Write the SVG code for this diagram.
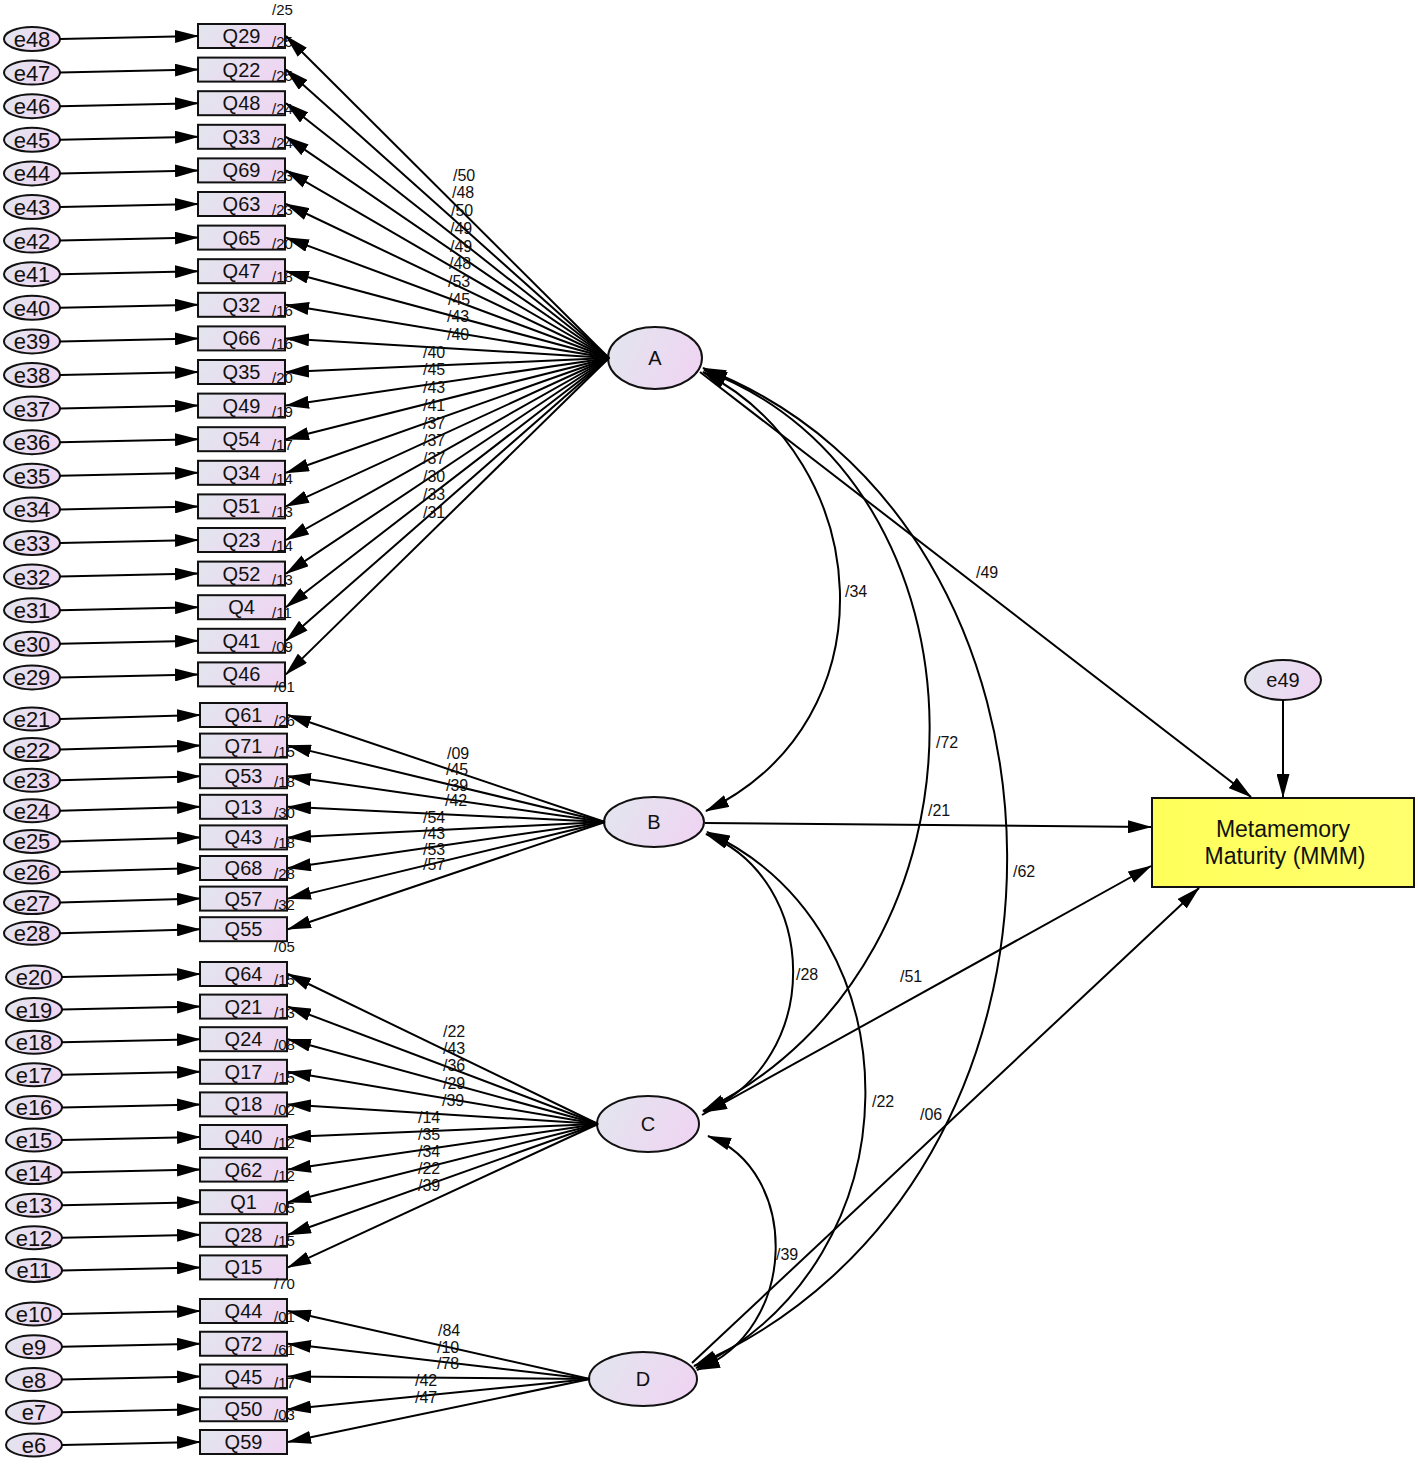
<svg xmlns="http://www.w3.org/2000/svg" width="1418" height="1464" viewBox="0 0 1418 1464">
<style>
.n{fill:url(#g);stroke:#111;stroke-width:2}
.y{fill:url(#gy);stroke:#111;stroke-width:2}
.t{font-family:"Liberation Sans",Arial,sans-serif;font-size:20px;text-anchor:middle;fill:#111}
.te{font-family:"Liberation Sans",Arial,sans-serif;font-size:22px;text-anchor:middle;fill:#111}
.s{font-family:"Liberation Sans",Arial,sans-serif;font-size:15px;fill:#111}
.l{font-family:"Liberation Sans",Arial,sans-serif;font-size:16px;fill:#111}
.c{stroke:#000;stroke-width:2;fill:none;marker-end:url(#ah)}
.b{stroke:#000;stroke-width:2;fill:none;marker-start:url(#ah);marker-end:url(#ah)}
</style>
<defs>
<linearGradient id="g" x1="0" y1="0" x2="1" y2="0.3"><stop offset="0" stop-color="#e2e6ee"/><stop offset="1" stop-color="#eed6f2"/></linearGradient>
<linearGradient id="gy" x1="0" y1="0" x2="1" y2="0"><stop offset="0" stop-color="#ffff5a"/><stop offset="1" stop-color="#ffff6e"/></linearGradient>
<marker id="ah" viewBox="0 0 24 13" refX="23" refY="6.5" markerWidth="24" markerHeight="13" markerUnits="userSpaceOnUse" orient="auto-start-reverse"><path d="M0,0 L24,6.5 L0,13 z" fill="#000"/></marker>
</defs>
<rect width="1418" height="1464" fill="#fff"/>

<g id="nodes">
<!-- A indicators -->
<g id="Q29"><rect class="n" x="198" y="24" width="87" height="24"/><text class="t" x="241.5" y="43">Q29</text><text class="s" x="272" y="47">/25</text></g>
<g id="Q22"><rect class="n" x="198" y="57.6" width="87" height="24"/><text class="t" x="241.5" y="76.6">Q22</text><text class="s" x="272" y="80.6">/25</text></g>
<g id="Q48"><rect class="n" x="198" y="91.2" width="87" height="24"/><text class="t" x="241.5" y="110.2">Q48</text><text class="s" x="272" y="114.2">/24</text></g>
<g id="Q33"><rect class="n" x="198" y="124.8" width="87" height="24"/><text class="t" x="241.5" y="143.8">Q33</text><text class="s" x="272" y="147.8">/24</text></g>
<g id="Q69"><rect class="n" x="198" y="158.4" width="87" height="24"/><text class="t" x="241.5" y="177.4">Q69</text><text class="s" x="272" y="181.4">/23</text></g>
<g id="Q63"><rect class="n" x="198" y="192" width="87" height="24"/><text class="t" x="241.5" y="211">Q63</text><text class="s" x="272" y="215">/23</text></g>
<g id="Q65"><rect class="n" x="198" y="225.6" width="87" height="24"/><text class="t" x="241.5" y="244.6">Q65</text><text class="s" x="272" y="248.6">/20</text></g>
<g id="Q47"><rect class="n" x="198" y="259.2" width="87" height="24"/><text class="t" x="241.5" y="278.2">Q47</text><text class="s" x="272" y="282.2">/18</text></g>
<g id="Q32"><rect class="n" x="198" y="292.8" width="87" height="24"/><text class="t" x="241.5" y="311.8">Q32</text><text class="s" x="272" y="315.8">/16</text></g>
<g id="Q66"><rect class="n" x="198" y="326.4" width="87" height="24"/><text class="t" x="241.5" y="345.4">Q66</text><text class="s" x="272" y="349.4">/16</text></g>
<g id="Q35"><rect class="n" x="198" y="360" width="87" height="24"/><text class="t" x="241.5" y="379">Q35</text><text class="s" x="272" y="383">/20</text></g>
<g id="Q49"><rect class="n" x="198" y="393.6" width="87" height="24"/><text class="t" x="241.5" y="412.6">Q49</text><text class="s" x="272" y="416.6">/19</text></g>
<g id="Q54"><rect class="n" x="198" y="427.2" width="87" height="24"/><text class="t" x="241.5" y="446.2">Q54</text><text class="s" x="272" y="450.2">/17</text></g>
<g id="Q34"><rect class="n" x="198" y="460.8" width="87" height="24"/><text class="t" x="241.5" y="479.8">Q34</text><text class="s" x="272" y="483.8">/14</text></g>
<g id="Q51"><rect class="n" x="198" y="494.4" width="87" height="24"/><text class="t" x="241.5" y="513.4">Q51</text><text class="s" x="272" y="517.4">/13</text></g>
<g id="Q23"><rect class="n" x="198" y="528" width="87" height="24"/><text class="t" x="241.5" y="547">Q23</text><text class="s" x="272" y="551">/14</text></g>
<g id="Q52"><rect class="n" x="198" y="561.6" width="87" height="24"/><text class="t" x="241.5" y="580.6">Q52</text><text class="s" x="272" y="584.6">/13</text></g>
<g id="Q4"><rect class="n" x="198" y="595.2" width="87" height="24"/><text class="t" x="241.5" y="614.2">Q4</text><text class="s" x="272" y="618.2">/11</text></g>
<g id="Q41"><rect class="n" x="198" y="628.8" width="87" height="24"/><text class="t" x="241.5" y="647.8">Q41</text><text class="s" x="272" y="651.8">/09</text></g>
<g id="Q46"><rect class="n" x="198" y="662.4" width="87" height="24"/><text class="t" x="241.5" y="681.4">Q46</text></g>
<text class="s" x="272" y="15">/25</text>
<text class="s" x="274" y="692">/01</text>

<!-- A errors -->
<g id="e48"><ellipse class="n" cx="32" cy="39" rx="28" ry="12"/><text class="te" x="32" y="47">e48</text></g>
<g id="e47"><ellipse class="n" cx="32" cy="72.6" rx="28" ry="12"/><text class="te" x="32" y="80.6">e47</text></g>
<g id="e46"><ellipse class="n" cx="32" cy="106.2" rx="28" ry="12"/><text class="te" x="32" y="114.2">e46</text></g>
<g id="e45"><ellipse class="n" cx="32" cy="139.8" rx="28" ry="12"/><text class="te" x="32" y="147.8">e45</text></g>
<g id="e44"><ellipse class="n" cx="32" cy="173.4" rx="28" ry="12"/><text class="te" x="32" y="181.4">e44</text></g>
<g id="e43"><ellipse class="n" cx="32" cy="207" rx="28" ry="12"/><text class="te" x="32" y="215">e43</text></g>
<g id="e42"><ellipse class="n" cx="32" cy="240.6" rx="28" ry="12"/><text class="te" x="32" y="248.6">e42</text></g>
<g id="e41"><ellipse class="n" cx="32" cy="274.2" rx="28" ry="12"/><text class="te" x="32" y="282.2">e41</text></g>
<g id="e40"><ellipse class="n" cx="32" cy="307.8" rx="28" ry="12"/><text class="te" x="32" y="315.8">e40</text></g>
<g id="e39"><ellipse class="n" cx="32" cy="341.4" rx="28" ry="12"/><text class="te" x="32" y="349.4">e39</text></g>
<g id="e38"><ellipse class="n" cx="32" cy="375" rx="28" ry="12"/><text class="te" x="32" y="383">e38</text></g>
<g id="e37"><ellipse class="n" cx="32" cy="408.6" rx="28" ry="12"/><text class="te" x="32" y="416.6">e37</text></g>
<g id="e36"><ellipse class="n" cx="32" cy="442.2" rx="28" ry="12"/><text class="te" x="32" y="450.2">e36</text></g>
<g id="e35"><ellipse class="n" cx="32" cy="475.8" rx="28" ry="12"/><text class="te" x="32" y="483.8">e35</text></g>
<g id="e34"><ellipse class="n" cx="32" cy="509.4" rx="28" ry="12"/><text class="te" x="32" y="517.4">e34</text></g>
<g id="e33"><ellipse class="n" cx="32" cy="543" rx="28" ry="12"/><text class="te" x="32" y="551">e33</text></g>
<g id="e32"><ellipse class="n" cx="32" cy="576.6" rx="28" ry="12"/><text class="te" x="32" y="584.6">e32</text></g>
<g id="e31"><ellipse class="n" cx="32" cy="610.2" rx="28" ry="12"/><text class="te" x="32" y="618.2">e31</text></g>
<g id="e30"><ellipse class="n" cx="32" cy="643.8" rx="28" ry="12"/><text class="te" x="32" y="651.8">e30</text></g>
<g id="e29"><ellipse class="n" cx="32" cy="677.4" rx="28" ry="12"/><text class="te" x="32" y="685.4">e29</text></g>

<!-- B indicators -->
<g id="Q61"><rect class="n" x="200" y="703" width="87" height="24"/><text class="t" x="243.5" y="722">Q61</text><text class="s" x="274" y="726">/26</text></g>
<g id="Q71"><rect class="n" x="200" y="733.6" width="87" height="24"/><text class="t" x="243.5" y="752.6">Q71</text><text class="s" x="274" y="756.6">/15</text></g>
<g id="Q53"><rect class="n" x="200" y="764.2" width="87" height="24"/><text class="t" x="243.5" y="783.2">Q53</text><text class="s" x="274" y="787.2">/18</text></g>
<g id="Q13"><rect class="n" x="200" y="794.8" width="87" height="24"/><text class="t" x="243.5" y="813.8">Q13</text><text class="s" x="274" y="817.8">/30</text></g>
<g id="Q43"><rect class="n" x="200" y="825.4" width="87" height="24"/><text class="t" x="243.5" y="844.4">Q43</text><text class="s" x="274" y="848.4">/18</text></g>
<g id="Q68"><rect class="n" x="200" y="856" width="87" height="24"/><text class="t" x="243.5" y="875">Q68</text><text class="s" x="274" y="879">/28</text></g>
<g id="Q57"><rect class="n" x="200" y="886.6" width="87" height="24"/><text class="t" x="243.5" y="905.6">Q57</text><text class="s" x="274" y="909.6">/32</text></g>
<g id="Q55"><rect class="n" x="200" y="917.2" width="87" height="24"/><text class="t" x="243.5" y="936.2">Q55</text></g>
<text class="s" x="274" y="952">/05</text>

<g id="e21"><ellipse class="n" cx="32" cy="719" rx="28" ry="11.5"/><text class="te" x="32" y="727">e21</text></g>
<g id="e22"><ellipse class="n" cx="32" cy="749.6" rx="28" ry="11.5"/><text class="te" x="32" y="757.6">e22</text></g>
<g id="e23"><ellipse class="n" cx="32" cy="780.2" rx="28" ry="11.5"/><text class="te" x="32" y="788.2">e23</text></g>
<g id="e24"><ellipse class="n" cx="32" cy="810.8" rx="28" ry="11.5"/><text class="te" x="32" y="818.8">e24</text></g>
<g id="e25"><ellipse class="n" cx="32" cy="841.4" rx="28" ry="11.5"/><text class="te" x="32" y="849.4">e25</text></g>
<g id="e26"><ellipse class="n" cx="32" cy="872" rx="28" ry="11.5"/><text class="te" x="32" y="880">e26</text></g>
<g id="e27"><ellipse class="n" cx="32" cy="902.6" rx="28" ry="11.5"/><text class="te" x="32" y="910.6">e27</text></g>
<g id="e28"><ellipse class="n" cx="32" cy="933.2" rx="28" ry="11.5"/><text class="te" x="32" y="941.2">e28</text></g>

<!-- C indicators -->
<g id="Q64"><rect class="n" x="200" y="962" width="87" height="24"/><text class="t" x="243.5" y="981">Q64</text><text class="s" x="274" y="985">/15</text></g>
<g id="Q21"><rect class="n" x="200" y="994.6" width="87" height="24"/><text class="t" x="243.5" y="1013.6">Q21</text><text class="s" x="274" y="1017.6">/13</text></g>
<g id="Q24"><rect class="n" x="200" y="1027.2" width="87" height="24"/><text class="t" x="243.5" y="1046.2">Q24</text><text class="s" x="274" y="1050.2">/08</text></g>
<g id="Q17"><rect class="n" x="200" y="1059.8" width="87" height="24"/><text class="t" x="243.5" y="1078.8">Q17</text><text class="s" x="274" y="1082.8">/15</text></g>
<g id="Q18"><rect class="n" x="200" y="1092.4" width="87" height="24"/><text class="t" x="243.5" y="1111.4">Q18</text><text class="s" x="274" y="1115.4">/02</text></g>
<g id="Q40"><rect class="n" x="200" y="1125" width="87" height="24"/><text class="t" x="243.5" y="1144">Q40</text><text class="s" x="274" y="1148">/12</text></g>
<g id="Q62"><rect class="n" x="200" y="1157.6" width="87" height="24"/><text class="t" x="243.5" y="1176.6">Q62</text><text class="s" x="274" y="1180.6">/12</text></g>
<g id="Q1"><rect class="n" x="200" y="1190.2" width="87" height="24"/><text class="t" x="243.5" y="1209.2">Q1</text><text class="s" x="274" y="1213.2">/05</text></g>
<g id="Q28"><rect class="n" x="200" y="1222.8" width="87" height="24"/><text class="t" x="243.5" y="1241.8">Q28</text><text class="s" x="274" y="1245.8">/15</text></g>
<g id="Q15"><rect class="n" x="200" y="1255.4" width="87" height="24"/><text class="t" x="243.5" y="1274.4">Q15</text></g>
<text class="s" x="274" y="1289">/70</text>

<g id="e20"><ellipse class="n" cx="34" cy="977" rx="28" ry="11.5"/><text class="te" x="34" y="985">e20</text></g>
<g id="e19"><ellipse class="n" cx="34" cy="1009.6" rx="28" ry="11.5"/><text class="te" x="34" y="1017.6">e19</text></g>
<g id="e18"><ellipse class="n" cx="34" cy="1042.2" rx="28" ry="11.5"/><text class="te" x="34" y="1050.2">e18</text></g>
<g id="e17"><ellipse class="n" cx="34" cy="1074.8" rx="28" ry="11.5"/><text class="te" x="34" y="1082.8">e17</text></g>
<g id="e16"><ellipse class="n" cx="34" cy="1107.4" rx="28" ry="11.5"/><text class="te" x="34" y="1115.4">e16</text></g>
<g id="e15"><ellipse class="n" cx="34" cy="1140" rx="28" ry="11.5"/><text class="te" x="34" y="1148">e15</text></g>
<g id="e14"><ellipse class="n" cx="34" cy="1172.6" rx="28" ry="11.5"/><text class="te" x="34" y="1180.6">e14</text></g>
<g id="e13"><ellipse class="n" cx="34" cy="1205.2" rx="28" ry="11.5"/><text class="te" x="34" y="1213.2">e13</text></g>
<g id="e12"><ellipse class="n" cx="34" cy="1237.8" rx="28" ry="11.5"/><text class="te" x="34" y="1245.8">e12</text></g>
<g id="e11"><ellipse class="n" cx="34" cy="1270.4" rx="28" ry="11.5"/><text class="te" x="34" y="1278.4">e11</text></g>

<!-- D indicators -->
<g id="Q44"><rect class="n" x="200" y="1299" width="87" height="24"/><text class="t" x="243.5" y="1318">Q44</text><text class="s" x="274" y="1322">/01</text></g>
<g id="Q72"><rect class="n" x="200" y="1331.75" width="87" height="24"/><text class="t" x="243.5" y="1350.75">Q72</text><text class="s" x="274" y="1354.75">/61</text></g>
<g id="Q45"><rect class="n" x="200" y="1364.5" width="87" height="24"/><text class="t" x="243.5" y="1383.5">Q45</text><text class="s" x="274" y="1387.5">/17</text></g>
<g id="Q50"><rect class="n" x="200" y="1397.25" width="87" height="24"/><text class="t" x="243.5" y="1416.25">Q50</text><text class="s" x="274" y="1420.25">/03</text></g>
<g id="Q59"><rect class="n" x="200" y="1430" width="87" height="24"/><text class="t" x="243.5" y="1449">Q59</text></g>

<g id="e10"><ellipse class="n" cx="34" cy="1314" rx="28" ry="11.5"/><text class="te" x="34" y="1322">e10</text></g>
<g id="e9"><ellipse class="n" cx="34" cy="1346.75" rx="28" ry="11.5"/><text class="te" x="34" y="1354.75">e9</text></g>
<g id="e8"><ellipse class="n" cx="34" cy="1379.5" rx="28" ry="11.5"/><text class="te" x="34" y="1387.5">e8</text></g>
<g id="e7"><ellipse class="n" cx="34" cy="1412.25" rx="28" ry="11.5"/><text class="te" x="34" y="1420.25">e7</text></g>
<g id="e6"><ellipse class="n" cx="34" cy="1445" rx="28" ry="11.5"/><text class="te" x="34" y="1453">e6</text></g>

<!-- latent -->
<g id="A"><ellipse class="n" cx="655" cy="358" rx="47" ry="31"/><text class="t" x="655" y="365">A</text></g>
<g id="B"><ellipse class="n" cx="654" cy="822" rx="50" ry="25"/><text class="t" x="654" y="829">B</text></g>
<g id="C"><ellipse class="n" cx="648" cy="1124" rx="51" ry="28"/><text class="t" x="648" y="1131">C</text></g>
<g id="D"><ellipse class="n" cx="643" cy="1379" rx="54" ry="27"/><text class="t" x="643" y="1386">D</text></g>
<g id="e49"><ellipse class="n" cx="1283" cy="680" rx="38" ry="20"/><text class="t" x="1283" y="687">e49</text></g>
<g id="MMM"><rect class="y" x="1152" y="798" width="262" height="89"/><text class="t" x="1283" y="837" style="font-size:23px">Metamemory</text><text class="t" x="1285" y="864" style="font-size:23px">Maturity (MMM)</text></g>
</g>

<g id="connectors">
<!-- error arrows A -->
<line class="c" x1="60" y1="39" x2="198" y2="36"/>
<line class="c" x1="60" y1="72.6" x2="198" y2="69.6"/>
<line class="c" x1="60" y1="106.2" x2="198" y2="103.2"/>
<line class="c" x1="60" y1="139.8" x2="198" y2="136.8"/>
<line class="c" x1="60" y1="173.4" x2="198" y2="170.4"/>
<line class="c" x1="60" y1="207" x2="198" y2="204"/>
<line class="c" x1="60" y1="240.6" x2="198" y2="237.6"/>
<line class="c" x1="60" y1="274.2" x2="198" y2="271.2"/>
<line class="c" x1="60" y1="307.8" x2="198" y2="304.8"/>
<line class="c" x1="60" y1="341.4" x2="198" y2="338.4"/>
<line class="c" x1="60" y1="375" x2="198" y2="372"/>
<line class="c" x1="60" y1="408.6" x2="198" y2="405.6"/>
<line class="c" x1="60" y1="442.2" x2="198" y2="439.2"/>
<line class="c" x1="60" y1="475.8" x2="198" y2="472.8"/>
<line class="c" x1="60" y1="509.4" x2="198" y2="506.4"/>
<line class="c" x1="60" y1="543" x2="198" y2="540"/>
<line class="c" x1="60" y1="576.6" x2="198" y2="573.6"/>
<line class="c" x1="60" y1="610.2" x2="198" y2="607.2"/>
<line class="c" x1="60" y1="643.8" x2="198" y2="640.8"/>
<line class="c" x1="60" y1="677.4" x2="198" y2="674.4"/>
<!-- error arrows B -->
<line class="c" x1="60" y1="719" x2="200" y2="715"/>
<line class="c" x1="60" y1="749.6" x2="200" y2="745.6"/>
<line class="c" x1="60" y1="780.2" x2="200" y2="776.2"/>
<line class="c" x1="60" y1="810.8" x2="200" y2="806.8"/>
<line class="c" x1="60" y1="841.4" x2="200" y2="837.4"/>
<line class="c" x1="60" y1="872" x2="200" y2="868"/>
<line class="c" x1="60" y1="902.6" x2="200" y2="898.6"/>
<line class="c" x1="60" y1="933.2" x2="200" y2="929.2"/>
<!-- error arrows C -->
<line class="c" x1="62" y1="977" x2="200" y2="974"/>
<line class="c" x1="62" y1="1009.6" x2="200" y2="1006.6"/>
<line class="c" x1="62" y1="1042.2" x2="200" y2="1039.2"/>
<line class="c" x1="62" y1="1074.8" x2="200" y2="1071.8"/>
<line class="c" x1="62" y1="1107.4" x2="200" y2="1104.4"/>
<line class="c" x1="62" y1="1140" x2="200" y2="1137"/>
<line class="c" x1="62" y1="1172.6" x2="200" y2="1169.6"/>
<line class="c" x1="62" y1="1205.2" x2="200" y2="1202.2"/>
<line class="c" x1="62" y1="1237.8" x2="200" y2="1234.8"/>
<line class="c" x1="62" y1="1270.4" x2="200" y2="1267.4"/>
<!-- error arrows D -->
<line class="c" x1="62" y1="1314" x2="200" y2="1311"/>
<line class="c" x1="62" y1="1346.75" x2="200" y2="1343.75"/>
<line class="c" x1="62" y1="1379.5" x2="200" y2="1376.5"/>
<line class="c" x1="62" y1="1412.25" x2="200" y2="1409.25"/>
<line class="c" x1="62" y1="1445" x2="200" y2="1442"/>

<!-- loadings A -->
<line class="c" x1="609" y1="358" x2="286" y2="36"/>
<line class="c" x1="609" y1="358" x2="286" y2="69.6"/>
<line class="c" x1="609" y1="358" x2="286" y2="103.2"/>
<line class="c" x1="609" y1="358" x2="286" y2="136.8"/>
<line class="c" x1="609" y1="358" x2="286" y2="170.4"/>
<line class="c" x1="609" y1="358" x2="286" y2="204"/>
<line class="c" x1="609" y1="358" x2="286" y2="237.6"/>
<line class="c" x1="609" y1="358" x2="286" y2="271.2"/>
<line class="c" x1="609" y1="358" x2="286" y2="304.8"/>
<line class="c" x1="609" y1="358" x2="286" y2="338.4"/>
<line class="c" x1="609" y1="358" x2="286" y2="372"/>
<line class="c" x1="609" y1="358" x2="286" y2="405.6"/>
<line class="c" x1="609" y1="358" x2="286" y2="439.2"/>
<line class="c" x1="609" y1="358" x2="286" y2="472.8"/>
<line class="c" x1="609" y1="358" x2="286" y2="506.4"/>
<line class="c" x1="609" y1="358" x2="286" y2="540"/>
<line class="c" x1="609" y1="358" x2="286" y2="573.6"/>
<line class="c" x1="609" y1="358" x2="286" y2="607.2"/>
<line class="c" x1="609" y1="358" x2="286" y2="640.8"/>
<line class="c" x1="609" y1="358" x2="286" y2="674.4"/>
<!-- loadings B -->
<line class="c" x1="605" y1="822" x2="288" y2="715"/>
<line class="c" x1="605" y1="822" x2="288" y2="745.6"/>
<line class="c" x1="605" y1="822" x2="288" y2="776.2"/>
<line class="c" x1="605" y1="822" x2="288" y2="806.8"/>
<line class="c" x1="605" y1="822" x2="288" y2="837.4"/>
<line class="c" x1="605" y1="822" x2="288" y2="868"/>
<line class="c" x1="605" y1="822" x2="288" y2="898.6"/>
<line class="c" x1="605" y1="822" x2="288" y2="929.2"/>
<!-- loadings C -->
<line class="c" x1="598" y1="1124" x2="288" y2="974"/>
<line class="c" x1="598" y1="1124" x2="288" y2="1006.6"/>
<line class="c" x1="598" y1="1124" x2="288" y2="1039.2"/>
<line class="c" x1="598" y1="1124" x2="288" y2="1071.8"/>
<line class="c" x1="598" y1="1124" x2="288" y2="1104.4"/>
<line class="c" x1="598" y1="1124" x2="288" y2="1137"/>
<line class="c" x1="598" y1="1124" x2="288" y2="1169.6"/>
<line class="c" x1="598" y1="1124" x2="288" y2="1202.2"/>
<line class="c" x1="598" y1="1124" x2="288" y2="1234.8"/>
<line class="c" x1="598" y1="1124" x2="288" y2="1267.4"/>
<!-- loadings D -->
<line class="c" x1="590" y1="1379" x2="288" y2="1311"/>
<line class="c" x1="590" y1="1379" x2="288" y2="1343.75"/>
<line class="c" x1="590" y1="1379" x2="288" y2="1376.5"/>
<line class="c" x1="590" y1="1379" x2="288" y2="1409.25"/>
<line class="c" x1="590" y1="1379" x2="288" y2="1442"/>

<!-- covariances -->
<path class="b" d="M703,372 C875,460 895,720 706,811"/>
<path class="b" d="M704,370 C1000,480 1010,960 703,1111"/>
<path class="b" d="M703,368 C1100,520 1120,1180 694,1366"/>
<path class="b" d="M706,834 C820,880 825,1060 704,1112"/>
<path class="b" d="M707,832 C920,930 920,1260 696,1368"/>
<path class="b" d="M708,1136 C800,1170 800,1330 697,1370"/>

<!-- regressions -->
<line class="c" x1="700" y1="372" x2="1251" y2="797"/>
<line class="c" x1="705" y1="823" x2="1151" y2="827"/>
<line class="c" x1="702" y1="1115" x2="1151" y2="866"/>
<line class="c" x1="692" y1="1363" x2="1199" y2="888"/>
<line class="c" x1="1283" y1="700" x2="1283" y2="797"/>
</g>

<g id="labels">
<text class="l" x="453" y="181">/50</text>
<text class="l" x="452" y="198">/48</text>
<text class="l" x="451" y="216">/50</text>
<text class="l" x="450" y="234">/49</text>
<text class="l" x="450" y="252">/49</text>
<text class="l" x="449" y="269">/48</text>
<text class="l" x="448" y="287">/53</text>
<text class="l" x="448" y="305">/45</text>
<text class="l" x="447" y="322">/43</text>
<text class="l" x="447" y="340">/40</text>
<text class="l" x="423" y="358">/40</text>
<text class="l" x="423" y="375">/45</text>
<text class="l" x="423" y="393">/43</text>
<text class="l" x="423" y="411">/41</text>
<text class="l" x="423" y="429">/37</text>
<text class="l" x="423" y="446">/37</text>
<text class="l" x="423" y="464">/37</text>
<text class="l" x="423" y="482">/30</text>
<text class="l" x="423" y="500">/33</text>
<text class="l" x="423" y="518">/31</text>

<text class="l" x="447" y="759">/09</text>
<text class="l" x="446" y="775">/45</text>
<text class="l" x="446" y="791">/39</text>
<text class="l" x="445" y="806">/42</text>
<text class="l" x="423" y="823">/54</text>
<text class="l" x="423" y="839">/43</text>
<text class="l" x="423" y="855">/53</text>
<text class="l" x="423" y="870">/57</text>

<text class="l" x="443" y="1037">/22</text>
<text class="l" x="443" y="1054">/43</text>
<text class="l" x="443" y="1071">/36</text>
<text class="l" x="443" y="1089">/29</text>
<text class="l" x="442" y="1106">/39</text>
<text class="l" x="418" y="1123">/14</text>
<text class="l" x="418" y="1140">/35</text>
<text class="l" x="418" y="1157">/34</text>
<text class="l" x="418" y="1174">/22</text>
<text class="l" x="418" y="1191">/39</text>

<text class="l" x="438" y="1336">/84</text>
<text class="l" x="437" y="1353">/10</text>
<text class="l" x="437" y="1369">/78</text>
<text class="l" x="415" y="1386">/42</text>
<text class="l" x="415" y="1403">/47</text>

<text class="l" x="845" y="597">/34</text>
<text class="l" x="976" y="578">/49</text>
<text class="l" x="936" y="748">/72</text>
<text class="l" x="928" y="816">/21</text>
<text class="l" x="1013" y="877">/62</text>
<text class="l" x="796" y="980">/28</text>
<text class="l" x="900" y="982">/51</text>
<text class="l" x="872" y="1107">/22</text>
<text class="l" x="920" y="1120">/06</text>
<text class="l" x="776" y="1260">/39</text>
</g>
</svg>
